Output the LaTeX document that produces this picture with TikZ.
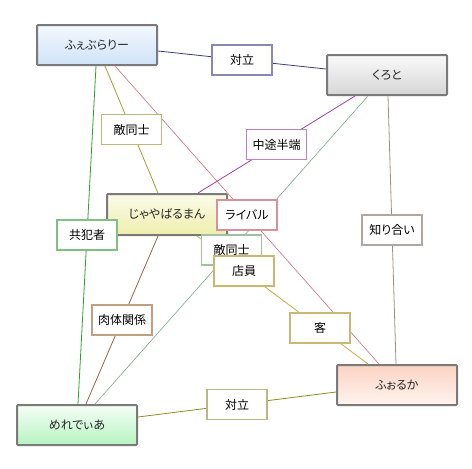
\documentclass[tikz,border=0pt]{standalone}
\usepackage{fontspec}
\newfontfamily\jp[RawFeature=+palt]{Noto Sans CJK JP}
\definecolor{mainborder}{HTML}{7A7A7A}
\definecolor{febtop}{HTML}{F4F8FD}
\definecolor{febbot}{HTML}{CFE3F8}
\definecolor{kutop}{HTML}{FAFAFA}
\definecolor{kubot}{HTML}{D6D6D6}
\definecolor{jatop}{HTML}{FBFBEA}
\definecolor{jabot}{HTML}{EEEEAE}
\definecolor{metop}{HTML}{F6FEF7}
\definecolor{mebot}{HTML}{B6F3C0}
\definecolor{fotop}{HTML}{FBD3C3}
\definecolor{fobot}{HTML}{FFF4EF}
% connector colours
\definecolor{cnavy}{HTML}{3C3C7C}
\definecolor{colive}{HTML}{A0A03C}
\definecolor{cpink}{HTML}{D07080}
\definecolor{cpurple}{HTML}{A040A8}
\definecolor{cgreengray}{HTML}{80A888}
\definecolor{cbrowngray}{HTML}{A09080}
\definecolor{cgreen}{HTML}{30A030}
\definecolor{cbrown}{HTML}{A06848}
\definecolor{cyellow}{HTML}{C0B050}
\definecolor{colivedark}{HTML}{8C9020}
% label border colours
\definecolor{bnavy}{HTML}{8A87B5}
\definecolor{bolive}{HTML}{B9B97A}
\definecolor{bpink}{HTML}{D8909C}
\definecolor{bpurple}{HTML}{C080C8}
\definecolor{bgreengray}{HTML}{A0C0A4}
\definecolor{bbrowngray}{HTML}{B0A8A0}
\definecolor{bgreen}{HTML}{80C080}
\definecolor{bbrown}{HTML}{C0A080}
\definecolor{byellow}{HTML}{C8B870}
\definecolor{bolive2}{HTML}{B8B880}
\begin{document}
\begin{tikzpicture}[x=1pt,y=-1pt,
  mainbox/.style={draw=mainborder, line width=2pt, rounded corners=1pt,
    minimum width=120pt, minimum height=40pt, inner sep=0pt,
    font=\jp\fontsize{12}{14}\selectfont, text=black!85},
  lbl/.style={draw=#1, fill=white, line width=1.5pt,
    minimum width=60pt, minimum height=30pt, inner sep=0pt,
    font=\jp\fontsize{12}{14}\selectfont, text=black},
  conn/.style={draw=#1, line width=0.8pt}]
\useasboundingbox[fill=white] (0,0) rectangle (472,469);
% main nodes
\node[mainbox, top color=febtop, bottom color=febbot] (feb) at (97,45) {ふぇぶらりー};
\node[mainbox, top color=kutop, bottom color=kubot] (ku) at (387,75) {くろと};
\node[mainbox, top color=jatop, bottom color=jabot, minimum height=41pt] (ja) at (167,214.5) {じゃやばるまん};
\node[mainbox, top color=metop, bottom color=mebot] (me) at (77,425) {めれでぃあ};
\node[mainbox, top color=fotop, bottom color=fobot] (fo) at (397,385) {ふぉるか};
% connectors
\draw[conn=cnavy] ([yshift=-6pt]feb.east) -- coordinate[pos=.5] (m1) ([yshift=6pt]ku.west);
\draw[conn=colive] ([xshift=8pt]feb.south) -- coordinate[pos=.5] (m2) ([xshift=-9pt]ja.north);
\draw[conn=cpink, line width=0.6pt] ([xshift=18pt]feb.south) -- coordinate[pos=.5] (m3) ([xshift=-18pt]fo.north);
\draw[conn=cpurple] ([xshift=-32pt]ku.south) -- coordinate[pos=.5] (m4) ([xshift=31pt]ja.north);
\draw[conn=cgreengray, line width=0.6pt] ([xshift=-19pt]ku.south) -- coordinate[pos=.5] (m5) ([xshift=18pt]me.north);
\draw[conn=cbrowngray] ([xshift=1pt]ku.south) -- coordinate[pos=.5] (m6) ([xshift=-1pt]fo.north);
\draw[conn=cgreen] ([xshift=-1pt]feb.south) -- coordinate[pos=.5] (m7) ([xshift=1pt]me.north);
\draw[conn=cbrown] ([xshift=-9pt]ja.south) -- coordinate[pos=.5] (m8) ([xshift=9pt]me.north);
\draw[conn=cyellow] ([xshift=30pt]ja.south) -- coordinate[pos=.275] (m9) coordinate[pos=.72] (m10) ([xshift=-29pt]fo.north);
\draw[conn=colivedark] ([yshift=8pt]me.east) -- coordinate[pos=.5] (m11) ([yshift=-7pt]fo.west);
% labels
\node[lbl=bnavy] (l1) at (m1) {対立};
\node[lbl=bolive] (l2) at (m2) {敵同士};
\node[lbl=bpurple] (l4) at (m4) {中途半端};
\node[lbl=bgreengray] (l5) at (m5) {敵同士};
\node[lbl=bpink] (l3) at (m3) {ライバル};
\node[lbl=bbrowngray] (l6) at (m6) {知り合い};
\node[lbl=bgreen] (l7) at (m7) {共犯者};
\node[lbl=bbrown] (l8) at (m8) {肉体関係};
\node[lbl=byellow] (l9) at (m9) {店員};
\node[lbl=byellow] (l10) at (m10) {客};
\node[lbl=bolive2] (l11) at (m11) {対立};
\end{tikzpicture}
\end{document}
